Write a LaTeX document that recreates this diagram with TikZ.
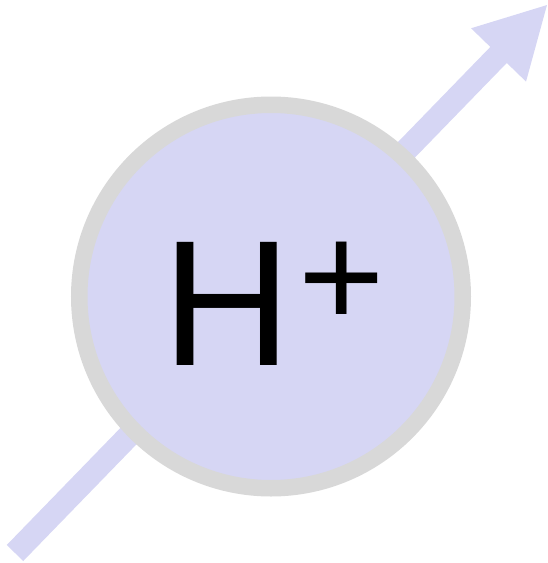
\documentclass[tikz,border=0pt]{standalone}
\usepackage{fontspec}
\setmainfont{Liberation Sans}
\usetikzlibrary{arrows.meta}
\definecolor{ionfill}{HTML}{D6D6F4}
\definecolor{ionring}{HTML}{D8D8D8}
\begin{document}
\begin{tikzpicture}[x=1pt, y=-1pt, every node/.style={inner sep=0pt, text=black}]
    \useasboundingbox (0,0) rectangle (548,563);

    \coordinate (tail) at (15,553);
    \coordinate (tip) at (548,4);
    \draw[ionfill, line width=23pt, -{Triangle[length=71pt,width=71pt]}] (tail) -- (tip);

    \node[circle, draw=ionring, fill=ionfill, line width=16.5pt, minimum size=383.5pt] (ion) at (271,296.5) {};
    \node[font=\fontsize{179}{179}\selectfont] (h) at (227.5,304) {H};
    \node[font=\fontsize{148}{148}\selectfont] (plus) at (341.5,284.5) {+};
\end{tikzpicture}
\end{document}
